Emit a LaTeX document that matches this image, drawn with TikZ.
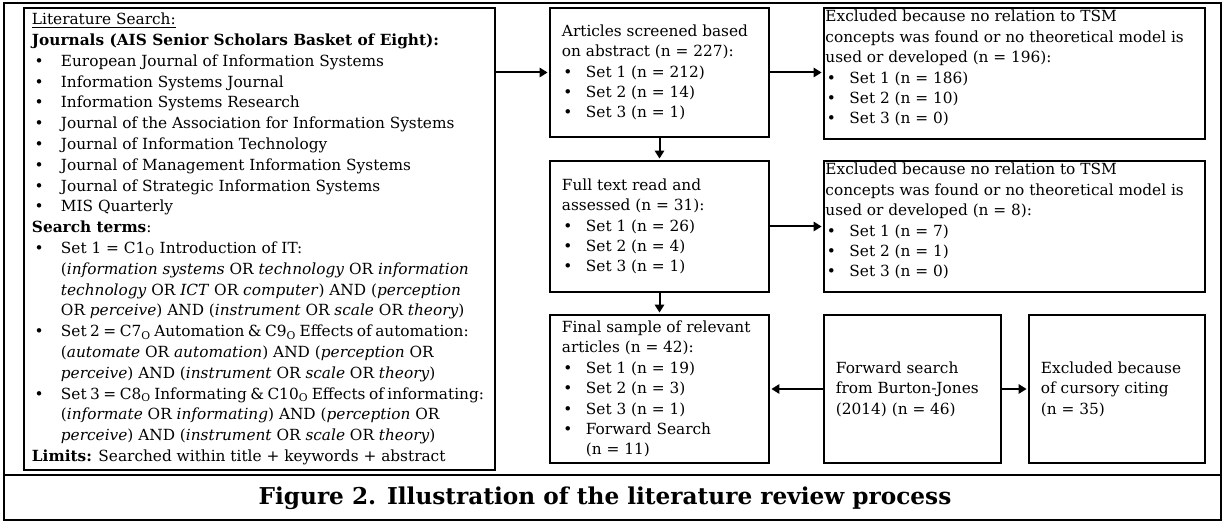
\documentclass[tikz,border=0pt]{standalone}
\usepackage{fontspec}
\setmainfont{DejaVu Serif}
\usetikzlibrary{arrows.meta}
\newcommand\bu{\makebox[18pt][l]{\hspace{1pt}\textbullet}}
\newcommand\bl{\makebox[21.75pt][l]{\hspace{2pt}\textbullet}}
\newcommand\ind{\hspace*{21.75pt}}
\newcommand\tight[1]{{\spaceskip=0.72\fontdimen2\font\relax #1}}
\begin{document}
\begin{tikzpicture}[x=0.75pt,y=-0.75pt,
  box/.style={draw, line width=2pt, inner sep=0pt},
  txt/.style={inner sep=0pt, align=left, font=\fontsize{11.5pt}{15.3pt}\selectfont},
  arr/.style={line width=1.5pt, -{Triangle[length=6pt,width=7pt]}, shorten >=0.8pt},
  frame/.style={line width=2.2pt}
]
\useasboundingbox (0,0) rectangle (1225,523);
\draw[frame] (4,3) rectangle (1221,520);
\draw[frame] (4,475) -- (1221,475);

% boxes
\node[box, minimum width=353.25pt, minimum height=346.5pt] (L) at (259.5,239) {};
\node[box, minimum width=164.25pt, minimum height=96.75pt] (A) at (659.5,72.5) {};
\node[box, minimum width=285.75pt, minimum height=98.25pt] (B) at (1014.5,73.5) {};
\node[box, minimum width=164.25pt, minimum height=98.25pt] (C) at (659.5,226.5) {};
\node[box, minimum width=285.75pt, minimum height=98.25pt] (D) at (1014.5,226.5) {};
\node[box, minimum width=164.25pt, minimum height=111pt] (E) at (659.5,389) {};
\node[box, minimum width=132.75pt, minimum height=111pt] (F) at (912.5,389) {};
\node[box, minimum width=132pt, minimum height=111pt] (G) at (1117,389) {};

% texts
\node[txt, anchor=west, font=\fontsize{11.5pt}{15.6pt}\selectfont] (Lt) at ([xshift=6.75pt]L.west) {%
\underline{Literature Search:}\\
\textbf{Journals (AIS Senior Scholars Basket of Eight):}\\
\bl European Journal of Information Systems\\
\bl Information Systems Journal\\
\bl Information Systems Research\\
\bl Journal of the Association for Information Systems\\
\bl Journal of Information Technology\\
\bl Journal of Management Information Systems\\
\bl Journal of Strategic Information Systems\\
\bl MIS Quarterly\\
\textbf{Search terms}:\\
\bl Set 1 = C1\textsubscript{O} Introduction of IT:\\
\ind (\textit{information systems} OR \textit{technology} OR \textit{information}\\
\ind \textit{technology} OR \textit{ICT} OR \textit{computer}) AND (\textit{perception}\\
\ind OR \textit{perceive}) AND (\textit{instrument} OR \textit{scale} OR \textit{theory})\\
\bl \tight{Set 2 = C7\textsubscript{O} Automation \& C9\textsubscript{O} Effects of automation:}\\
\ind (\textit{automate} OR \textit{automation}) AND (\textit{perception} OR\\
\ind \textit{perceive}) AND (\textit{instrument} OR \textit{scale} OR \textit{theory})\\
\bl \tight{Set 3 = C8\textsubscript{O} Informating \& C10\textsubscript{O} Effects of informating:}\\
\ind (\textit{informate} OR \textit{informating}) AND (\textit{perception} OR\\
\ind \textit{perceive}) AND (\textit{instrument} OR \textit{scale} OR \textit{theory})\\
\textbf{Limits:} Searched within title + keywords + abstract};

\node[txt, anchor=west] (At) at ([xshift=9.75pt]A.west) {Articles screened based\\ on abstract (n = 227):\\ \bu Set 1 (n = 212)\\ \bu Set 2 (n = 14)\\ \bu Set 3 (n = 1)};
\node[txt, anchor=north west] (Bt) at ([shift={(1.9pt,-2.5pt)}]B.north west) {Excluded because no relation to TSM\\ concepts was found or no theoretical model is\\ used or developed (n = 196):\\ \bu Set 1 (n = 186)\\ \bu Set 2 (n = 10)\\ \bu Set 3 (n = 0)};
\node[txt, anchor=west] (Ct) at ([xshift=9.75pt]C.west) {Full text read and\\ assessed (n = 31):\\ \bu Set 1 (n = 26)\\ \bu Set 2 (n = 4)\\ \bu Set 3 (n = 1)};
\node[txt, anchor=north west] (Dt) at ([shift={(1.9pt,-2.5pt)}]D.north west) {Excluded because no relation to TSM\\ concepts was found or no theoretical model is\\ used or developed (n = 8):\\ \bu Set 1 (n = 7)\\ \bu Set 2 (n = 1)\\ \bu Set 3 (n = 0)};
\node[txt, anchor=west] (Et) at ([xshift=9.75pt]E.west) {Final sample of relevant\\ articles (n = 42):\\ \bu Set 1 (n = 19)\\ \bu Set 2 (n = 3)\\ \bu Set 3 (n = 1)\\ \bu Forward Search\\ \hspace*{18pt}(n = 11)};
\node[txt, anchor=west] (Ft) at ([xshift=9.75pt]F.west) {Forward search\\ from Burton-Jones\\ (2014) (n = 46)};
\node[txt, anchor=west] (Gt) at ([xshift=9.75pt]G.west) {Excluded because\\ of cursory citing\\ (n = 35)};

\node[inner sep=0pt, font=\bfseries\fontsize{17.4pt}{20pt}\selectfont] (cap) at (605,498) {Figure 2. Illustration of the literature review process};

% connectors
\draw[arr] (A.west -| L.east) -- (A.west);
\draw[arr] (A.east) -- (A.east -| B.west);
\draw[arr] (A.south) -- (C.north);
\draw[arr] (C.east) -- (C.east -| D.west);
\draw[arr] (C.south) -- (E.north);
\draw[arr] (F.west) -- (E.east);
\draw[arr] (F.east) -- (G.west);
\end{tikzpicture}
\end{document}
